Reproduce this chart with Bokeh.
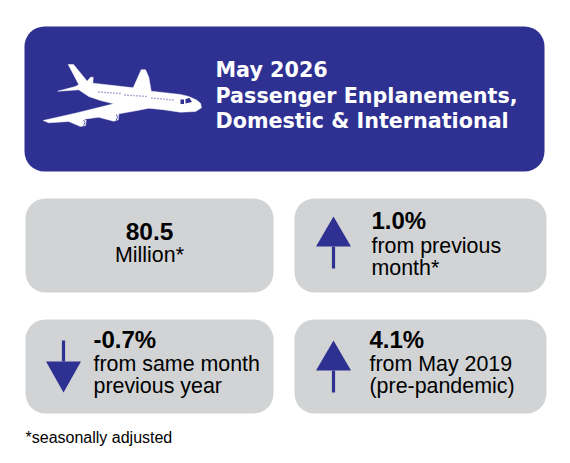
from bokeh.plotting import figure
from bokeh.models import Range1d
from bokeh.core.properties import value
from bokeh.embed import file_html
from bokeh.resources import INLINE

header_lines = ["May 2026", "Passenger Enplanements,", "Domestic & International"]
headline_value = "80.5"
headline_unit = "Million*"
stat_values = ["1.0%", "-0.7%", "4.1%"]
stat_first = ["from previous", "from same month", "from May 2019"]
stat_second = ["month*", "previous year", "(pre-pandemic)"]
stat_dirs = ["up", "down", "up"]
footnote = "*seasonally adjusted"

NAVY = "#2E3192"
GRAY = "#D1D3D4"
FONT = "Liberation Sans"
W, H = 554, 455

p = figure(width=W, height=H, output_backend="svg", toolbar_location=None,
           x_range=Range1d(0, W), y_range=Range1d(H, 0),
           min_border=0, outline_line_color=None, background_fill_color="white",
           border_fill_color="white")
p.xaxis.visible = False
p.yaxis.visible = False
p.grid.visible = False

# panels
p.quad(left=[24], right=[544], top=[26], bottom=[171], fill_color=NAVY, line_color=None, border_radius=20)
p.quad(left=[25, 294, 25, 294], right=[273, 546, 273, 546], top=[198, 198, 319, 319],
       bottom=[292, 292, 413, 413], fill_color=GRAY, line_color=None, border_radius=20)

# airplane
plane_x = [67.7, 73, 86.7, 90, 92.7, 92.3, 132.7, 140.7, 145, 148.3, 150.7, 180, 188.3, 196, 200, 201,
           195, 180, 163.3, 148.3, 136.7, 118.3, 117.7, 113.3, 98.3, 83.3, 85.7, 85, 80, 68.3, 48.3,
           42.7, 75, 113.3, 100, 88.3, 78.3, 57.3, 75, 78.3]
plane_y = [64, 64, 80.7, 76.7, 76.7, 82.7, 87.3, 69.3, 69.3, 76.7, 90.7, 94, 96, 99.5, 102.7, 107.3,
           111, 111.7, 109.3, 107.7, 110, 113.3, 119.3, 120.7, 116.7, 118.7, 120, 125, 126, 121, 122.3,
           120, 112.7, 103.3, 100, 96, 89.3, 90.7, 86, 84]
p.patch(plane_x, plane_y, fill_color="white", line_color="white", line_width=0.5)
for xs, ys in [([98, 120], [91.5, 93]), ([124, 147], [94.5, 96]), ([151, 173], [97.5, 99.5])]:
    p.line(xs, ys, line_color=NAVY, line_width=1.4, line_dash=[1, 2], line_alpha=0.8)
p.patches([[180, 183.5, 183.5, 180], [185, 189, 191.5, 185]], [[99, 99, 103.5, 103.5], [98.5, 97.5, 101.5, 103]],
          fill_color=NAVY, line_color=None)
p.multi_line([[116, 117, 115.5], [83, 84.5, 83]], [[114, 117, 120], [119.5, 122, 125]],
             line_color=NAVY, line_width=0.8)

# arrows
def arrow(cx, tip, base, tail, half=17.5):
    p.patch([cx, cx + half, cx - half], [tip, base, base], fill_color=NAVY, line_color=None)
    p.segment([cx], [base], [cx], [tail], line_color=NAVY, line_width=3.2)

arrow_x = [333, 63, 333]
arrow_tip = [216, 392, 340]
arrow_base = [246, 361, 370]
arrow_tail = [268, 340, 392]
for i, d in enumerate(stat_dirs):
    arrow(arrow_x[i], arrow_tip[i], arrow_base[i], arrow_tail[i])

def txt(x, y, s, size, color="black", bold=False, align="left", font=FONT):
    p.text([x], [y], text=[s], text_font=value(font), text_font_size=f"{size}px", text_color=color,
           text_font_style="bold" if bold else "normal", text_align=align, text_baseline="middle")

for y, s in zip([69, 95, 120], header_lines):
    txt(215, y, s, 20.7, "white", True, font="DejaVu Sans")

txt(149, 231, headline_value, 24.5, bold=True, align="center")
txt(149, 254, headline_unit, 21.4, align="center")

text_x = [371, 93, 369]
val_y = [220, 339, 339]
first_y = [245, 363, 363]
second_y = [267, 385, 385]
for i in range(3):
    txt(text_x[i], val_y[i], stat_values[i], 24, bold=True)
    txt(text_x[i], first_y[i], stat_first[i], 21.4)
    txt(text_x[i], second_y[i], stat_second[i], 21.4)

txt(25, 437, footnote, 16)

open("out.html", "w").write(file_html(p, INLINE))
